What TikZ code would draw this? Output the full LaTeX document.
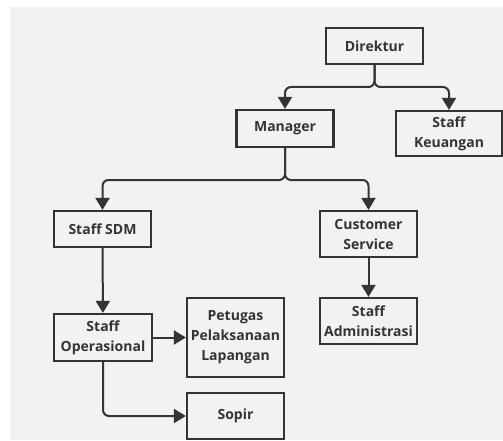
\documentclass[tikz,border=0pt]{standalone}
\usepackage{fontspec}
\setmainfont{Open Sans}
\usetikzlibrary{arrows.meta, positioning}
\definecolor{bggray}{RGB}{242,242,242}
\definecolor{inkgray}{RGB}{52,52,52}

\begin{document}
\begin{tikzpicture}[x=1pt, y=-1pt, font=\bfseries\fontsize{14}{20}\selectfont]
		
		% Setup the style for the boxes
		\tikzset{box style/.style={draw=inkgray,
				line width=2.2pt,
				text=inkgray,
				align=center,
				inner sep=2pt,
				minimum width=97pt,
				minimum height=36pt},
			link style/.style={draw=inkgray,
				line width=2pt,
				rounded corners=6pt,
				-{Triangle[width=14pt,length=12pt]}}}
		
		% Background
		\useasboundingbox (0, 0) rectangle (503, 441);
		\fill[bggray] (10, 7) rectangle (503, 440);
		
		% Draw the boxes
		\node[box style] at (374.5, 46)  (direktur)  {Direktur};
		\node[box style, minimum height=37pt] at (285, 128.5) (manager) {Manager};
		\node[box style, minimum width=106pt, minimum height=45pt] at (449, 133.5) (keuangan) {Staff\\Keuangan};
		\node[box style] at (102.5, 229) (sdm)       {Staff SDM};
		\node[box style, minimum height=46pt] at (368.5, 234) (cs) {Customer\\Service};
		\node[box style, minimum width=98pt, minimum height=47pt] at (103, 337.5) (operasional) {Staff\\Operasional};
		\node[box style, minimum height=79pt] at (235.5, 337.5) (petugas) {Petugas\\Pelaksanaan\\Lapangan};
		\node[box style, minimum height=46pt] at (368.5, 321) (administrasi) {Staff\\Administrasi};
		\node[box style, minimum height=46pt] at (235.5, 416) (sopir) {Sopir};
		
		% Fork points
		\coordinate (fork top) at (374.5, 87);
		\coordinate (fork mid) at (285, 180);
		
		% Connect the boxes with arrows
		\draw[link style] (direktur.south) -- (fork top) -| (manager.north);
		\draw[link style] (direktur.south) -- (fork top) -| (keuangan.north);
		\draw[link style] (manager.south) -- (fork mid) -| (sdm.north);
		\draw[link style] (manager.south) -- (fork mid) -| (cs.north);
		\draw[link style] (sdm) -- (operasional);
		\draw[link style] (cs) -- (administrasi);
		\draw[link style] (operasional.east) -- (operasional.east -| petugas.west);
		\draw[link style] (operasional.south) |- (sopir.west);
		
\end{tikzpicture}
\end{document}
